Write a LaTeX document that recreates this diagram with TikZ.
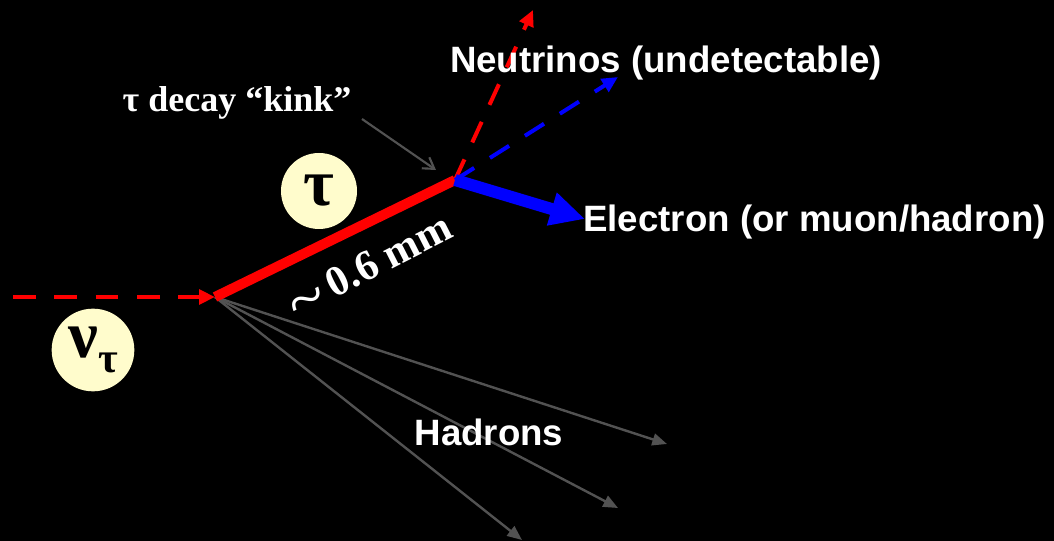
\documentclass[tikz,border=0pt]{standalone}
\usepackage{fontspec}
\setmainfont{Liberation Serif}
\newfontfamily\arialfont{Liberation Sans}
\usetikzlibrary{arrows.meta}

\begin{document}
\begin{tikzpicture}[x=0.75pt,y=-0.75pt,
        nudash/.style={dash pattern=on 17pt off 14pt, line width=3.5pt},
        hadron/.style={draw=black!68, line width=1.8pt, -{Triangle[length=11pt,width=9pt]}},
        blob/.style={circle, fill=yellow!20, inner sep=0pt},
        sanslbl/.style={text=white, font=\arialfont\bfseries\fontsize{27.5}{30}\selectfont, inner sep=0pt},
        seriflbl/.style={text=white, font=\bfseries\fontsize{27}{30}\selectfont, inner sep=0pt}]
        \fill [black] (0,0) rectangle (1054,541);
        \useasboundingbox (0,0) rectangle (1054,541);
        \coordinate (start) at (13,297);
        \coordinate (prod) at (215,297);
        \coordinate (kink) at (455,180);
        \coordinate (nu1) at (533,10);
        \coordinate (nu2) at (618,77);
        \coordinate (etip) at (585,219);
        \coordinate (h1) at (667,444);
        \coordinate (h2) at (618,508);
        \coordinate (h3) at (522,540);
        \coordinate (ptr) at (362,119);
        \coordinate (ptrtip) at (436,170);
        \node [blob, minimum size=57pt] (taublob) at (319,191) {\bfseries\fontsize{50}{50}\selectfont τ};
        \node [blob, minimum size=62pt] (nublob) at (93,350) {\bfseries\fontsize{50}{50}\selectfont ν\raisebox{-11pt}{\fontsize{32}{32}\selectfont τ}};
        \draw [red, nudash, -{Triangle[length=12pt,width=11pt]}] (start) -- (prod);
        \draw [hadron] (prod) -- (h1);
        \draw [hadron] (prod) -- (h2);
        \draw [hadron] (prod) -- (h3);
        \draw [red, line width=7.5pt] (prod) -- (kink);
        \draw [red, nudash, line width=3pt, -{Triangle[length=12pt,width=11pt]}] (kink) -- (nu1);
        \draw [blue, nudash, line width=3pt, -{Triangle[length=12pt,width=11pt]}] (kink) -- (nu2);
        \draw [blue, line width=9pt, -{Triangle[length=26pt,width=24pt]}] (kink) -- (etip);
        \draw [black!68, line width=1.6pt, -{Straight Barb[length=8pt,width=10pt]}] (ptr) -- (ptrtip);
        \node [sanslbl] (neutlbl) at (666,63) {Neutrinos (undetectable)};
        \node [sanslbl, anchor=west] (eleclbl) at (583,222) {Electron (or muon/hadron)};
        \node [sanslbl] (hadlbl) at (489,432) {Hadrons};
        \node [seriflbl] (kinklbl) at (237,103) {τ decay “kink”};
        \node [seriflbl, font=\bfseries\fontsize{32}{32}\selectfont, rotate=27] (lenlbl) at (371,269) {\raisebox{-7pt}{\scalebox{1.6}[1.5]{\mdseries\char`~}}\,0.6 mm};
\end{tikzpicture}
\end{document}
